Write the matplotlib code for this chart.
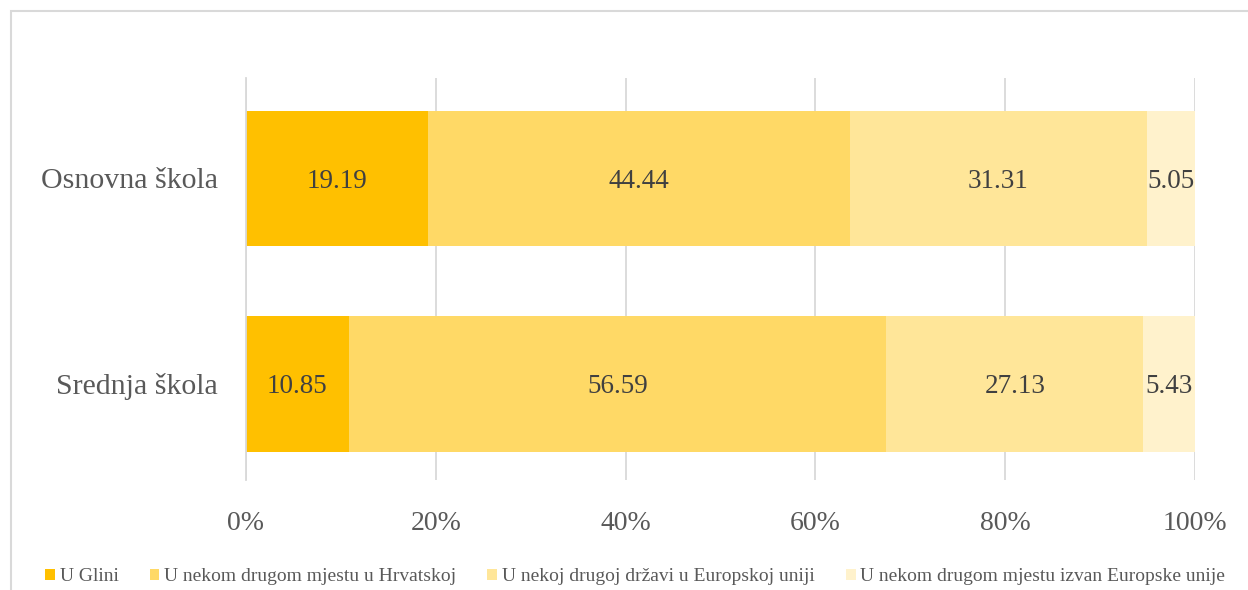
import matplotlib
matplotlib.use("Agg")
import matplotlib.pyplot as plt
from matplotlib.patches import Rectangle
import numpy as np

categories = ["Srednja škola", "Osnovna škola"]
series_names = ["U Glini", "U nekom drugom mjestu u Hrvatskoj",
                "U nekoj drugoj državi u Europskoj uniji",
                "U nekom drugom mjestu izvan Europske unije"]
u_glini = [10.85, 19.19]
u_hrvatskoj = [56.59, 44.44]
u_eu = [27.13, 31.31]
izvan_eu = [5.43, 5.05]
colors = ["#FFC000", "#FFD966", "#FFE699", "#FFF2CC"]
xticks = [0, 20, 40, 60, 80, 100]

plt.rcParams['font.family'] = ['Liberation Serif', 'DejaVu Serif']

fig = plt.figure(figsize=(12.48, 5.9), dpi=100)
ax = fig.add_axes([246/1248, 1-480/590, 949/1248, 402/590])

series = [u_glini, u_hrvatskoj, u_eu, izvan_eu]
y = np.arange(len(categories))
left = np.zeros(len(categories))
for name, vals, c in zip(series_names, series, colors):
    vals = np.array(vals)
    bars = ax.barh(y, vals, left=left, height=0.663, color=c, label=name, zorder=2)
    for b, v in zip(bars, vals):
        ax.text(b.get_x() + b.get_width()/2, b.get_y() + b.get_height()/2 - 0.015,
                f"{v:.2f}", ha="center", va="center", fontsize=19.5, color="#404040")
    left += vals

ax.set_xlim(0, 100)
ax.set_ylim(-0.47, 1.49)
ax.set_xticks(xticks)
ax.set_xticklabels([f"{t}%" for t in xticks])
ax.set_yticks(y)
ax.set_yticklabels(categories)
ax.tick_params(axis="x", length=0, labelsize=20, labelcolor="#595959", pad=22)
ax.tick_params(axis="y", length=0, labelsize=21.5, labelcolor="#595959", pad=20)
ax.grid(axis="x", color="#D9D9D9", linewidth=1.3, zorder=0)
for s in ["top", "right", "bottom"]:
    ax.spines[s].set_visible(False)
ax.spines["left"].set_color("#D9D9D9")
ax.spines["left"].set_linewidth(1.3)

fig.legend(loc="lower left", bbox_to_anchor=(45/1248, 0.008), ncol=4, frameon=False,
           fontsize=14, labelcolor="#595959", handlelength=0.5, handleheight=0.5,
           handletextpad=0.25, columnspacing=1.6, borderaxespad=0, borderpad=0)

fig.add_artist(Rectangle((11/1248, -0.1), 1.2, 1.1 - 11/590, fill=False,
                         edgecolor="#D9D9D9", linewidth=1.5, transform=fig.transFigure))

fig.savefig("out.png", dpi=100)
